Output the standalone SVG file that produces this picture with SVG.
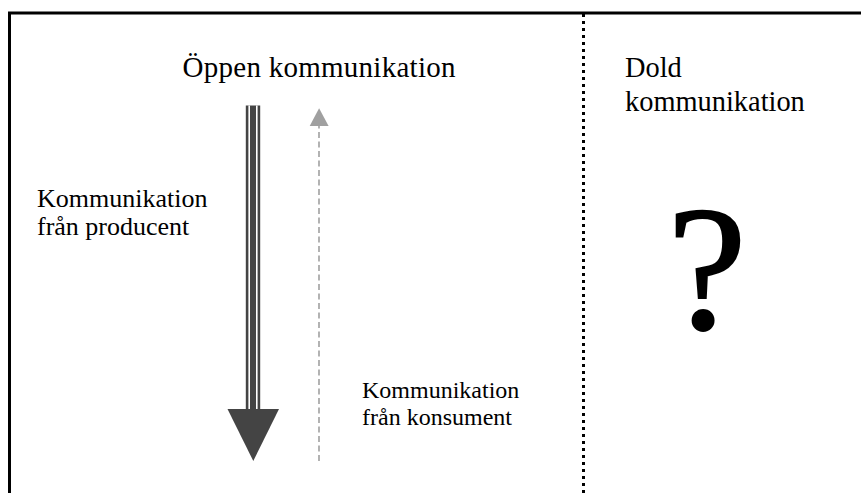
<svg xmlns="http://www.w3.org/2000/svg" width="861" height="493" viewBox="0 0 861 493">
  <style>
    text { font-family: "Liberation Serif", "Times New Roman", serif; fill: #000; }
    .head { font-size: 29px; }
    .head2 { font-size: 28.4px; }
    .lbl { font-size: 24px; }
    .lbl2 { font-size: 26px; }
    .q { font-size: 178px; }
  </style>
  <rect x="0" y="0" width="861" height="493" fill="#fff"/>
  <g id="frame">
    <line x1="8" y1="13" x2="861" y2="13" stroke="#000" stroke-width="3"/>
    <line x1="9.5" y1="12" x2="9.5" y2="493" stroke="#000" stroke-width="3"/>
    <line x1="583.5" y1="14" x2="583.5" y2="493" stroke="#000" stroke-width="3" stroke-dasharray="3 4"/>
  </g>
  <g id="open-title"><text class="head" x="319" y="77" text-anchor="middle" textLength="273">Öppen kommunikation</text></g>
  <g id="hidden-title">
    <text class="head2" x="625" y="77">Dold</text>
    <text class="head2" x="625" y="111">kommunikation</text>
  </g>
  <g id="producer-label">
    <text class="lbl2" x="37" y="207">Kommunikation</text>
    <text class="lbl2" x="37" y="235">från producent</text>
  </g>
  <g id="consumer-label">
    <text class="lbl" x="362" y="398">Kommunikation</text>
    <text class="lbl" x="362" y="425">från konsument</text>
  </g>
  <g id="unknown"><text class="q" x="707" y="328" text-anchor="middle" stroke="#000" stroke-width="2">?</text></g>
  <g id="connectors">
    <g id="producer-arrow">
      <rect x="245.8" y="105.5" width="14.4" height="304" fill="#444"/>
      <line x1="249.2" y1="105.5" x2="249.2" y2="410" stroke="#fff" stroke-width="1.6"/>
      <line x1="256.8" y1="105.5" x2="256.8" y2="410" stroke="#fff" stroke-width="1.6"/>
      <polygon points="227.5,409 279,409 253.3,461" fill="#444"/>
    </g>
    <g id="consumer-arrow">
      <line x1="319" y1="461" x2="319" y2="124" stroke="#a0a0a0" stroke-width="1.6" stroke-dasharray="6 3.5"/>
      <polygon points="309.7,126 328.6,126 319.1,108.3" fill="#a0a0a0"/>
    </g>
  </g>
</svg>
